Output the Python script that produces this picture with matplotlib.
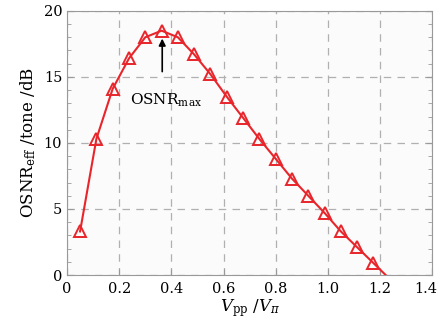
import matplotlib
matplotlib.use("Agg")
import matplotlib.pyplot as plt
import matplotlib.transforms as mtransforms
from matplotlib.ticker import MultipleLocator

# Vpp/Vpi and effective OSNR per tone
vpp = [0.05, 0.1125, 0.175, 0.2375, 0.3, 0.3625, 0.425, 0.4875, 0.55, 0.6125,
       0.675, 0.7375, 0.8, 0.8625, 0.925, 0.9875, 1.05, 1.1125, 1.175]
osnr = [3.3, 10.3, 14.1, 16.4, 18.0, 18.5, 18.0, 16.7, 15.2, 13.5,
        11.9, 10.3, 8.8, 7.3, 6.0, 4.7, 3.3, 2.1, 0.9]
# curve continues below the last marker until it hits the axis
vpp_tail = [1.2375]
osnr_tail = [-0.3]
xticks = [0, 0.2, 0.4, 0.6, 0.8, 1.0, 1.2, 1.4]
xticklabels = ['0', '0.2', '0.4', '0.6', '0.8', '1.0', '1.2', '1.4']

plt.rcParams['font.family'] = 'DejaVu Serif'
plt.rcParams['mathtext.fontset'] = 'dejavuserif'

fig = plt.figure(figsize=(4.41, 3.29), dpi=100)
fig.patch.set_facecolor('white')
ax = fig.add_axes([0.152, 0.164, 0.828, 0.803])
ax.set_facecolor('#fbfbfb')

red = '#e8252b'
ax.plot(vpp + vpp_tail, osnr + osnr_tail, color=red, lw=1.5, zorder=3)
ax.plot(vpp, osnr, ls='none', marker='^', ms=8.5, mfc='none', mec=red, mew=1.4, zorder=4)

ax.set_xlim(0, 1.4)
ax.set_ylim(0, 20)
ax.yaxis.set_major_locator(MultipleLocator(5))
ax.yaxis.set_minor_locator(MultipleLocator(1))
ax.set_xticks(xticks)
ax.set_xticklabels(xticklabels)
ax.tick_params(which='both', direction='in', right=True, top=False, colors='#999999',
               labelcolor='black', labelsize=10.5)
ax.tick_params(which='major', length=4)
ax.tick_params(which='minor', length=3)
ax.tick_params(axis='x', pad=5)
for s in ax.spines.values():
    s.set_color('#999999')
ax.grid(True, which='major', ls=(0, (6, 5)), color='#b0b0b0', lw=0.9)

# last x label sits a bit left so it stays inside the picture
last = ax.get_xticklabels()[-1]
last.set_transform(last.get_transform() +
                   mtransforms.ScaledTranslation(-6 / 100, 0, fig.dpi_scale_trans))

# vertical arrow to the peak, label below it
ax.annotate('', xy=(0.365, 17.9), xytext=(0.365, 15.4),
            arrowprops=dict(arrowstyle='-|>', color='black', lw=1.2,
                            shrinkA=0, shrinkB=0, mutation_scale=10))
ax.text(0.38, 13.2, r'OSNR$_{\mathrm{max}}$', ha='center', va='center', fontsize=11)

ax.set_xlabel(r'$V_{\mathrm{pp}}$ /$V_{\pi}$', fontsize=12, labelpad=1)
ax.set_ylabel(r'OSNR$_{\mathrm{eff}}$ /tone /dB', fontsize=12, labelpad=4)

fig.savefig('out.png', dpi=100)
